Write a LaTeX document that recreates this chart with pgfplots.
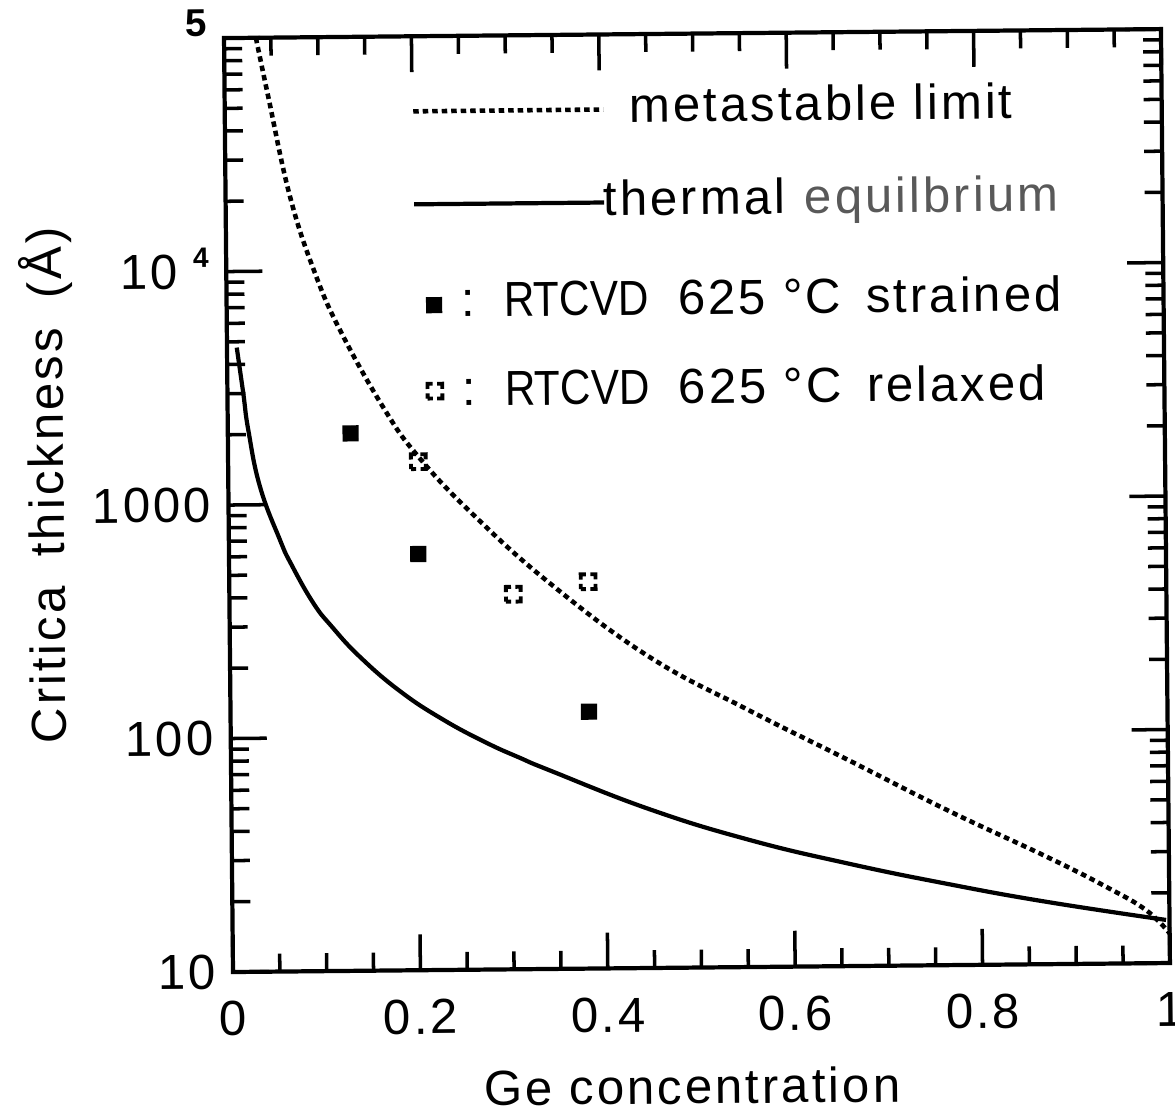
\documentclass[border=0pt]{standalone}
\usepackage{fontspec}
\setmainfont{Liberation Sans}[LetterSpace=6]
\newfontfamily\tightfont{Liberation Sans}
\usepackage{graphicx}
\usepackage{pgfplots}
\pgfplotsset{compat=1.18}
\pgfplotsset{
  lineleg/.style={legend image code/.code={\draw[##1] (0mm,0mm) -- (19mm,0mm);}},
  markleg/.style={legend image code/.code={\path[draw=none,fill=none] (0mm,0mm) -- (19mm,0mm);
    \path[##1] plot[only marks] coordinates {(1.9mm,#1)};}},
}
\newcommand{\rtcvd}{\scalebox{0.86}[1]{\tightfont RTCVD}}
\begin{document}
\begin{tikzpicture}
\path[use as bounding box] (-23.3mm,-14.1mm) rectangle (94.2mm,97.2mm);
\begin{scope}[transform canvas={rotate around={0.55:(0,0)}}]
\begin{axis}[
  at={(0,0)}, anchor=south west,
  scale only axis, width=93.7mm, height=93.4mm,
  xmin=0, xmax=1, ymin=10, ymax=100000, ymode=log, log basis y=10,
  axis line style={line width=1.2pt},
  every tick/.style={line width=1pt, black},
  tick align=inside, xtick pos=both, ytick pos=both,
  major tick length=3.6mm, minor tick length=1.8mm,
  xtick={0,0.2,0.4,0.6,0.8,1},
  xticklabels={0,0.2,0.4,0.6,0.8,1},
  minor xtick={0.05,0.1,0.15,0.25,0.3,0.35,0.45,0.5,0.55,0.65,0.7,0.75,0.85,0.9,0.95},
  ytick={10,100,1000,10000,100000},
  yticklabels={10,100,1000,
    {10\hspace{1.5mm}\smash{\raisebox{6.2pt}{\fontsize{8}{8}\selectfont\bfseries 4}}},
    {\phantom{10}\hspace{1.0mm}\smash{\raisebox{5.4pt}{\fontsize{11}{11}\selectfont\bfseries 5}}\hspace{0.9mm}}},
  minor ytick={20,30,40,50,60,70,80,90,200,300,400,500,600,700,800,900,2000,3000,4000,5000,6000,7000,8000,9000,20000,30000,40000,50000,60000,70000,80000,90000},
  tick label style={font=\fontsize{14}{16}\selectfont},
  xticklabel style={yshift=-1.7mm},
  yticklabel style={xshift=-0.5mm},
  xlabel={Ge concentration},
  ylabel={Critica\hspace{0.6em}thickness\hspace{0.6em}(Å)},
  label style={font=\fontsize{14}{16}\selectfont},
  xlabel style={at={(axis description cs:0.489,-0.127)}, anchor=center},
  ylabel style={at={(axis description cs:-0.193,0.523)}, anchor=center},
  legend style={at={(axis description cs:0.198,0.945)}, anchor=north west,
    draw=none, fill=none, font=\fontsize{14}{16}\selectfont,
    inner sep=0pt, row sep=4.7mm, column sep=0pt,
    nodes={inner sep=0pt, text height=3.6mm, text depth=1mm}},
  legend cell align=left,
  clip=true,
]
\addplot[black, line width=1.3pt, dash pattern=on 0.55mm off 0.4mm, smooth, tension=0.7, lineleg]
  coordinates {
  (0.034,100000) (0.0466,55850) (0.0687,20890) (0.0947,9750) (0.1225,5380)
  (0.168,2510) (0.203,1585) (0.2594,902) (0.342,449) (0.4476,215)
  (0.553,126) (0.6586,76.4) (0.764,46.1) (0.870,28.8) (0.933,21.3)
  (0.975,16.9) (1.0,13.4)};
\addlegendentry{\hspace{2.4mm}metastable limit}
\addplot[black, line width=1.2pt, smooth, tension=0.75, lineleg]
  coordinates {
  (0.0104,4721) (0.0169,3006) (0.0219,2089) (0.0338,1194) (0.0546,705)
  (0.0668,550) (0.0894,378) (0.1089,299) (0.1387,221) (0.1811,157)
  (0.227,118) (0.2731,93.5) (0.3085,80.4) (0.3404,70.8) (0.446,47.9)
  (0.5518,35.1) (0.6576,27.5) (0.763,22.3) (0.869,18.5) (0.9963,15.3)};
\addlegendentry{\hspace{-0.3mm}thermal\hspace{0.4em}{\color{black!65}equilbrium}}
\addplot[black, only marks, mark=square*, mark size=2.1pt, markleg=-0.8mm]
  coordinates {(0.131,2004) (0.202,606) (0.3826,126)};
\addlegendentry{\raisebox{-0.7mm}{\hspace{-14.6mm}:\hspace{2.9mm}\rtcvd\hspace{2.9mm}625\hspace{1.7mm}°C\hspace{2.5mm}strained}}
\addplot[black, only marks, mark=square, mark size=2.1pt,
  mark options={line width=1.1pt, dash pattern=on 2.94pt off 1.26pt, dash phase=1.47pt}, markleg=-0.1mm]
  coordinates {(0.203,1507) (0.303,404) (0.383,454)};
\addlegendentry{\raisebox{-0.3mm}{\hspace{-14.6mm}:\hspace{2.9mm}\rtcvd\hspace{2.9mm}625\hspace{1.7mm}°C\hspace{2.5mm}relaxed}}
\end{axis}
\end{scope}
\end{tikzpicture}
\end{document}
